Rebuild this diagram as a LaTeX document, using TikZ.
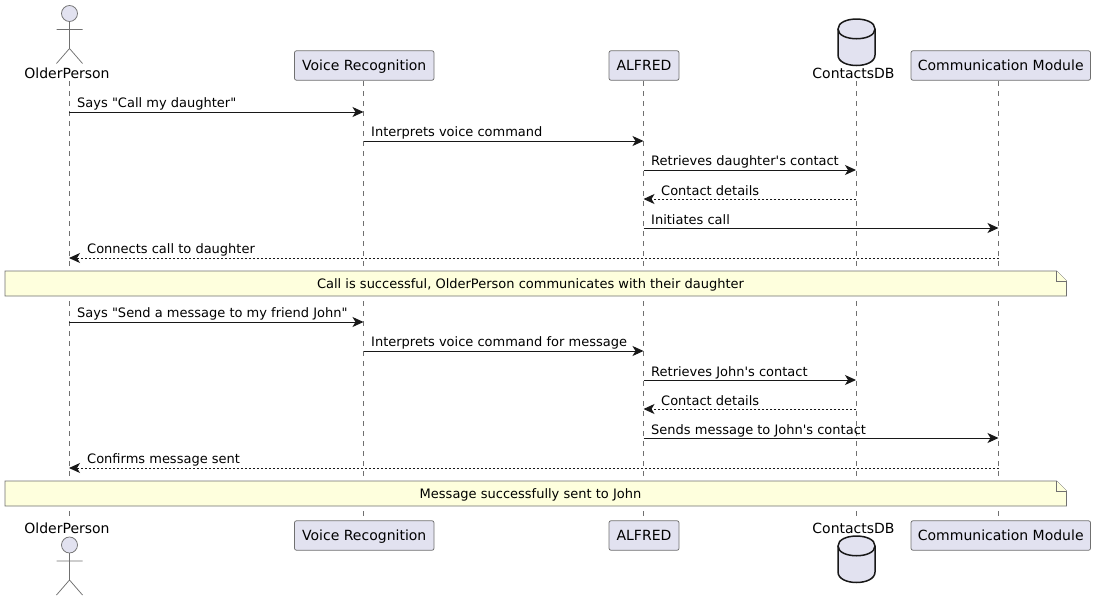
\documentclass[tikz,border=0pt]{standalone}
\usepackage{fontspec}
\newfontfamily\umlfont{DejaVu Sans}
\usetikzlibrary{arrows.meta}

\definecolor{partfill}{HTML}{E2E2F0}
\definecolor{notefill}{HTML}{FEFFDD}
\definecolor{umlline}{HTML}{181818}
\definecolor{thinline}{HTML}{707070}

\tikzset{
    partbox/.style={draw=thinline,line width=0.75pt,fill=partfill,rounded corners=2pt,minimum height=29.5pt,inner sep=0pt,text height=11pt,text depth=2pt,text=black,font=\umlfont\fontsize{14}{16}\selectfont},
    partname/.style={inner sep=0pt,text=black,font=\umlfont\fontsize{14}{16}\selectfont},
    lifeline/.style={draw=thinline,line width=0.75pt,dash pattern=on 5pt off 5pt},
    msg/.style={draw=umlline,line width=1pt,-{Stealth[length=11pt,width=10pt,inset=3pt,fill=umlline]}},
    reply/.style={msg,dash pattern=on 2pt off 2pt},
    msgtext/.style={anchor=base west,inner sep=0pt,text=black,font=\umlfont\fontsize{13}{15}\selectfont},
    notebox/.style={draw=thinline,line width=0.75pt,fill=notefill},
    notetext/.style={inner sep=0pt,text=black,font=\umlfont\fontsize{13}{15}\selectfont},
    person/.pic={
        \draw [draw=thinline,line width=0.75pt,fill=partfill] (0,0) circle (8);
        \draw [draw=thinline,line width=0.75pt] (0,8)--(0,35) (-13,16)--(13,16) (-13,50)--(0,35)--(13,50);
    },
    database/.pic={
        \draw [draw=umlline,line width=1.5pt,fill=partfill] (-18.5,10) .. controls (-18.5,-3.3) and (18.5,-3.3) .. (18.5,10)
            -- (18.5,36) .. controls (18.5,50) and (-18.5,50) .. (-18.5,36) -- cycle;
        \draw [draw=umlline,line width=1.5pt] (-18.5,10) .. controls (-18.5,23) and (18.5,23) .. (18.5,10);
    },
}

\begin{document}
\begin{tikzpicture}[x=1pt,y=-1pt]
    \useasboundingbox (0,0) rectangle (1095,600);

    % lifelines with one coordinate per message row
    \foreach \name/\xx in {older/69,voice/363.5,alfred/643.5,contacts/856,comm/998.5}{
        \coordinate (\name top) at (\xx,81);
        \coordinate (\name bottom) at (\xx,520);
        \foreach \row/\yy in {1/112,2/141,3/170,4/199,5/228,6/258,7/322,8/351,9/380,10/409,11/438,12/468}{
            \coordinate (\name\row) at (\xx,\yy);
        }
        \draw [lifeline] (\name top)--(\name bottom);
    }

    % top row
    \pic at (69.5,13.5) {person};
    \node [partname](olderhead)at(67,73){OlderPerson};
    \node [partbox,minimum width=139.5pt](voicehead)at(364.25,65.5){Voice Recognition};
    \node [partbox,minimum width=70pt](alfredhead)at(644,65.5){ALFRED};
    \pic at (856.5,19) {database};
    \node [partname](contactshead)at(853.5,73){ContactsDB};
    \node [partbox,minimum width=179.5pt](commhead)at(1000.75,65.5){Communication Module};

    % bottom row
    \node [partname](olderfoot)at(67,528){OlderPerson};
    \pic at (69.5,545) {person};
    \node [partbox,minimum width=139.5pt](voicefoot)at(364.25,535.5){Voice Recognition};
    \node [partbox,minimum width=70pt](alfredfoot)at(644,535.5){ALFRED};
    \node [partname](contactsfoot)at(853.5,528){ContactsDB};
    \pic at (856.5,536) {database};
    \node [partbox,minimum width=179.5pt](commfoot)at(1000.75,535.5){Communication Module};

    % first scenario
    \draw [msg](older1)--(voice1);
    \node [msgtext](text1)at(77,107){Says "Call my daughter"};
    \draw [msg](voice2)--(alfred2);
    \node [msgtext](text2)at(371,136){Interprets voice command};
    \draw [msg](alfred3)--(contacts3);
    \node [msgtext](text3)at(651,165){Retrieves daughter's contact};
    \draw [reply](contacts4)--(alfred4);
    \node [msgtext](text4)at(661,195){Contact details};
    \draw [msg](alfred5)--(comm5);
    \node [msgtext](text5)at(651,224){Initiates call};
    \draw [reply](comm6)--(older6);
    \node [msgtext](text6)at(87,253){Connects call to daughter};

    \draw [notebox](5,271)--(1056.5,271)--(1066.5,281)--(1066.5,296)--(5,296)--cycle;
    \draw [notebox](1056.5,271)--(1056.5,281)--(1066.5,281);
    \node [notetext](note1)at(530.5,284.5){Call is successful, OlderPerson communicates with their daughter};

    % second scenario
    \draw [msg](older7)--(voice7);
    \node [msgtext](text7)at(77,317){Says "Send a message to my friend John"};
    \draw [msg](voice8)--(alfred8);
    \node [msgtext](text8)at(371,346){Interprets voice command for message};
    \draw [msg](alfred9)--(contacts9);
    \node [msgtext](text9)at(651,376){Retrieves John's contact};
    \draw [reply](contacts10)--(alfred10);
    \node [msgtext](text10)at(661,405){Contact details};
    \draw [msg](alfred11)--(comm11);
    \node [msgtext](text11)at(651,434){Sends message to John's contact};
    \draw [reply](comm12)--(older12);
    \node [msgtext](text12)at(87,463){Confirms message sent};

    \draw [notebox](5,481)--(1056.5,481)--(1066.5,491)--(1066.5,506)--(5,506)--cycle;
    \draw [notebox](1056.5,481)--(1056.5,491)--(1066.5,491);
    \node [notetext](note2)at(530.5,494.5){Message successfully sent to John};
\end{tikzpicture}
\end{document}
